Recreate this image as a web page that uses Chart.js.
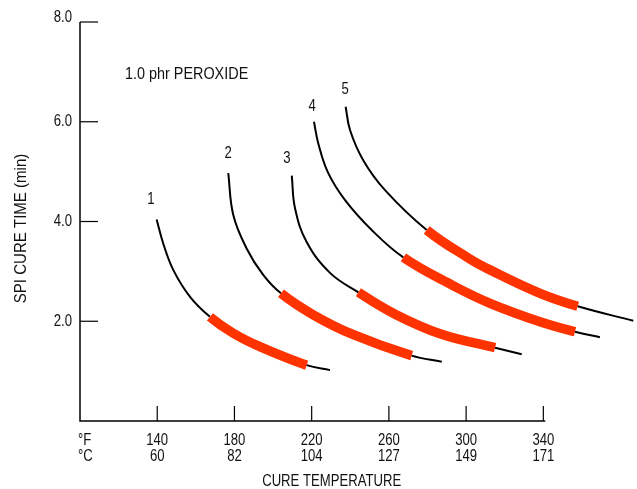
<!DOCTYPE html>
<html>
<head>
<meta charset="utf-8">
<script src="https://cdn.jsdelivr.net/npm/chart.js@4"></script>
<style>
  html, body { margin: 0; padding: 0; background: #fff; }
  #wrap { width: 637px; height: 489px; }
</style>
</head>
<body>
<div id="wrap"><canvas id="c" width="637" height="489"></canvas></div>
<script>
// ---- data ----
const fahrenheitTicks = [140, 180, 220, 260, 300, 340];
const celsiusTicks = ['60', '82', '104', '127', '149', '171'];
const yTicks = [2, 4, 6, 8];

// [°F, SPI cure time (min)]
const curve1 = [[139.7,4.04],[143.1,3.56],[148.3,3.03],[157.0,2.49],[167.3,2.09],[179.4,1.76],[193.2,1.49],[217.4,1.12],[229.5,1.02]];
const curve2 = [[176.8,4.97],[179.4,4.13],[186.3,3.46],[194.9,2.93],[204.1,2.56],[220.8,2.13],[241.6,1.73],[271.8,1.31],[287.4,1.19]];
const curve3 = [[209.7,4.92],[211.4,4.26],[217.4,3.59],[229.5,2.97],[244.2,2.58],[262.3,2.16],[286.5,1.75],[315.0,1.47],[328.8,1.34]];
const curve4 = [[221.2,6.00],[223.4,5.57],[228.6,4.97],[237.3,4.43],[251.1,3.83],[267.5,3.28],[293.0,2.72],[312.4,2.36],[338.3,1.99],[356.4,1.79],[369.3,1.68]];
const curve5 = [[237.6,6.30],[239.9,5.83],[246.7,5.23],[258.0,4.63],[279.6,3.83],[301.1,3.27],[312.4,3.03],[338.3,2.56],[357.8,2.30],[386.6,2.01]];

// index range of the highlighted (red) part of each curve
const redRanges = [[4, 7], [4, 7], [4, 7], [5, 9], [4, 8]];

const curveLabels = ['1', '2', '3', '4', '5'];
const curveLabelPos = [[136.7,4.44],[176.7,5.37],[207.2,5.27],[220.2,6.31],[237.4,6.65]];

const noteText = '1.0 phr PEROXIDE';
const notePos = [123.3, 6.95];
const xTitle = 'CURE TEMPERATURE';
const yTitle = 'SPI CURE TIME (min)';

// ---- chart ----
const FONT = "'Liberation Sans', Arial, sans-serif";
const RED = '#ff3300';
const curves = [curve1, curve2, curve3, curve4, curve5];

const datasets = curves.map((c, i) => {
  const [rs, re] = redRanges[i];
  const isRed = ctx => ctx.p0DataIndex >= rs && ctx.p1DataIndex <= re;
  return {
    data: c.map(p => ({ x: p[0], y: p[1] })),
    borderColor: '#000',
    borderWidth: 2,
    pointRadius: 0,
    tension: 0.4,
    borderCapStyle: 'butt',
    segment: {
      borderColor: ctx => isRed(ctx) ? RED : '#000',
      borderWidth: ctx => isRed(ctx) ? 9.5 : 2
    }
  };
});

function text(ctx, t, px, py, align, sx, rot) {
  ctx.save();
  ctx.translate(px, py);
  if (rot) ctx.rotate(rot);
  ctx.scale(sx || 0.82, 1);
  ctx.textAlign = align;
  ctx.textBaseline = 'middle';
  ctx.fillText(t, 0, 0);
  ctx.restore();
}

const axesPlugin = {
  id: 'axesPlugin',
  afterDraw(chart) {
    const { ctx, scales: { x, y } } = chart;
    const x0 = x.getPixelForValue(100);
    const y0 = y.getPixelForValue(0);
    ctx.save();
    ctx.strokeStyle = '#000';
    ctx.lineWidth = 1.5;
    ctx.beginPath();
    ctx.moveTo(x0, y.getPixelForValue(8));
    ctx.lineTo(x0, y0);
    ctx.lineTo(x.getPixelForValue(341), y0);
    ctx.stroke();
    ctx.lineWidth = 1.2;
    ctx.fillStyle = '#111';
    ctx.font = '16px ' + FONT;
    yTicks.forEach(v => {
      const py = y.getPixelForValue(v);
      ctx.beginPath();
      ctx.moveTo(x0, py);
      ctx.lineTo(x0 + 18, py);
      ctx.stroke();
      text(ctx, v.toFixed(1), x0 - 8, v === 8 ? py - 4 : py, 'right');
    });
    fahrenheitTicks.forEach((f, i) => {
      const px = x.getPixelForValue(f);
      ctx.beginPath();
      ctx.moveTo(px, y0);
      ctx.lineTo(px, y0 - 15);
      ctx.stroke();
      text(ctx, String(f), px, y0 + 20, 'center');
      text(ctx, celsiusTicks[i], px, y0 + 36, 'center');
    });
    text(ctx, '°F', x0 - 2, y0 + 20, 'left');
    text(ctx, '°C', x0 - 2, y0 + 36, 'left');
    text(ctx, xTitle, x.getPixelForValue(220) + 20, y0 + 61, 'center');
    text(ctx, yTitle, 22, y.getPixelForValue(3.86), 'center', 0.94, -Math.PI / 2);
    text(ctx, noteText, x.getPixelForValue(notePos[0]), y.getPixelForValue(notePos[1]), 'left', 0.9);
    curveLabels.forEach((t, i) => {
      text(ctx, t, x.getPixelForValue(curveLabelPos[i][0]), y.getPixelForValue(curveLabelPos[i][1]), 'center');
    });
    ctx.restore();
  }
};

new Chart(document.getElementById('c'), {
  type: 'line',
  data: { datasets },
  options: {
    responsive: false,
    animation: false,
    devicePixelRatio: 1,
    layout: { padding: { left: 80, right: 1, top: 22, bottom: 68 } },
    plugins: { legend: { display: false }, tooltip: { enabled: false } },
    scales: {
      x: { type: 'linear', min: 100, max: 388, display: false },
      y: { type: 'linear', min: 0, max: 8, display: false }
    }
  },
  plugins: [axesPlugin]
});
</script>
</body>
</html>
